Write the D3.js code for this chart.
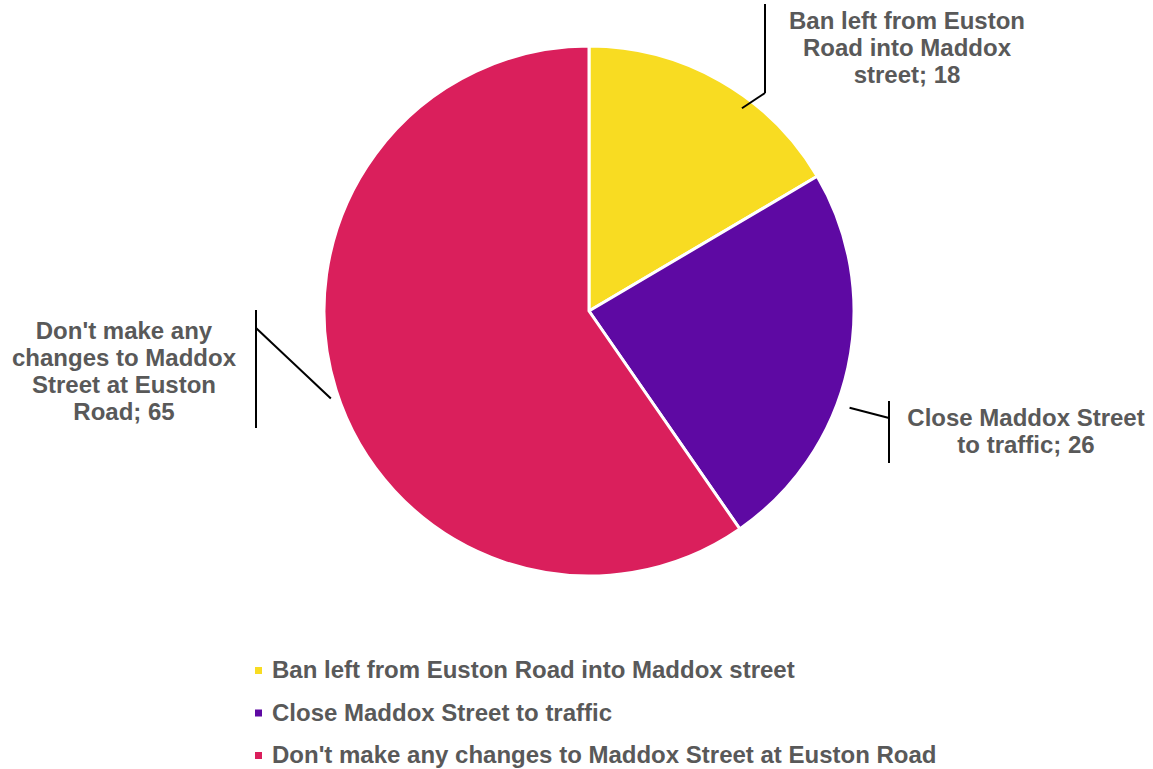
<!DOCTYPE html>
<html>
<head>
<meta charset="utf-8">
<script src="https://cdn.jsdelivr.net/npm/d3@7/dist/d3.min.js"></script>
<style>
  html, body { margin: 0; padding: 0; background: #fff; }
  svg { display: block; }
  text { font-family: "Liberation Sans", Arial, sans-serif; font-weight: bold; fill: #595959; }
</style>
</head>
<body>
<svg id="chart" width="1153" height="769"></svg>
<script>
// ---- data ----
const categories = [
  "Ban left from Euston Road into Maddox street",
  "Close Maddox Street to traffic",
  "Don't make any changes to Maddox Street at Euston Road"
];
const values = [18, 26, 65];
const colors = ["#F8DC22", "#5E09A3", "#DA1F5C"];
const labelLines = [
  ["Ban left from Euston", "Road into Maddox", "street; 18"],
  ["Close Maddox Street", "to traffic; 26"],
  ["Don't make any", "changes to Maddox", "Street at Euston", "Road; 65"]
];

// ---- layout ----
const W = 1153, H = 769;
const cx = 589, cy = 311, R = 265;
// label layout: text centre x, first baseline y, leader line geometry
const labelLayout = [
  { tx: 907, ty: 29, vx: 765, vy1: 4, vy2: 93, ey: 93, endAngleOff: 7.3, endR: 254 },
  { tx: 1026, ty: 426, vx: 889, vy1: 401, vy2: 463, ey: 418, endAngleOff: 8.0, endR: 278 },
  { tx: 124, ty: 339, vx: 256, vy1: 310, vy2: 428, ey: 328, endAngleOff: -1.4, endR: 272.6 }
];
const lineH = 27;

const svg = d3.select("#chart");
const g = svg.append("g").attr("transform", `translate(${cx},${cy})`);

const pie = d3.pie().sort(null).value(d => d)(values);
const arc = d3.arc().innerRadius(0).outerRadius(R);

g.selectAll("path.slice")
  .data(pie)
  .join("path")
  .attr("class", "slice")
  .attr("d", arc)
  .attr("fill", (d, i) => colors[i])
  .attr("stroke", "#fff")
  .attr("stroke-width", 3)
  .attr("stroke-linejoin", "round");

// leader lines and data labels
pie.forEach((d, i) => {
  const L = labelLayout[i];
  const mid = (d.startAngle + d.endAngle) / 2 + L.endAngleOff * Math.PI / 180;
  const ex = cx + L.endR * Math.sin(mid);
  const ey = cy - L.endR * Math.cos(mid);
  svg.append("line")
    .attr("x1", L.vx).attr("y1", L.vy1).attr("x2", L.vx).attr("y2", L.vy2)
    .attr("stroke", "#000").attr("stroke-width", 2);
  svg.append("line")
    .attr("x1", L.vx).attr("y1", L.ey).attr("x2", ex).attr("y2", ey)
    .attr("stroke", "#000").attr("stroke-width", 2);
  const t = svg.append("text")
    .attr("text-anchor", "middle")
    .attr("font-size", 24);
  labelLines[i].forEach((s, k) => {
    t.append("tspan").attr("x", L.tx).attr("y", L.ty + k * lineH).text(s);
  });
});

// legend
const legX = 255, legY0 = 670, legStep = 42.5;
const leg = svg.append("g");
categories.forEach((c, i) => {
  const y = legY0 + i * legStep;
  leg.append("rect")
    .attr("x", legX).attr("y", y - 3).attr("width", 7).attr("height", 7)
    .attr("fill", colors[i]);
  leg.append("text")
    .attr("x", legX + 17).attr("y", y + 8)
    .attr("font-size", 24)
    .text(c);
});
</script>
</body>
</html>
